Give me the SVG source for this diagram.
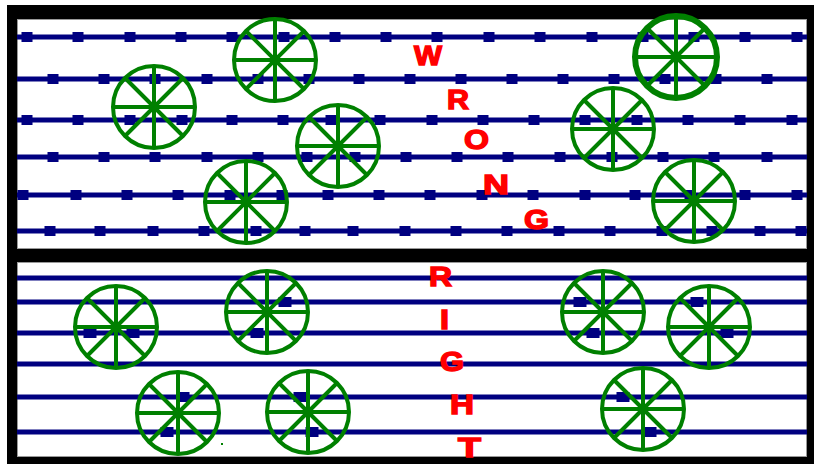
<svg xmlns="http://www.w3.org/2000/svg" xmlns:xlink="http://www.w3.org/1999/xlink" width="814" height="464" viewBox="0 0 814 464">
<style>
.ln{stroke:#000080;stroke-width:5;fill:none}
.sq{fill:#000080}
.tr{stroke:#008000;stroke-width:4;fill:none}
.lt{font-family:"Liberation Sans",Arial,sans-serif;font-weight:bold;font-size:27px;fill:#ff0000;stroke:#ff0000;stroke-width:1.4}
</style>
<defs>
<rect id="sq" x="-5.5" y="-5" width="11" height="10"/>
<rect id="sq2" x="-6.5" y="-5" width="13" height="10"/>
<path id="sp" d="M-41 0H41M0-41V41M-29-29L29 29M-29 29L29-29"/>
<circle id="rim" r="41"/>
</defs>
<rect x="0" y="0" width="814" height="464" fill="#ffffff"/>
<rect x="7" y="5" width="807" height="459" fill="#000000"/>
<rect x="17.5" y="19.5" width="789" height="229" fill="#ffffff" stroke="#999999" stroke-width="1"/>
<rect x="17.5" y="262.5" width="789" height="194" fill="#ffffff" stroke="#999999" stroke-width="1"/>
<g id="connectors">
<g class="ln">
<path d="M17 37H807M17 79H807M17 120H807M17 157H807M17 195H807M17 231H807"/>
<path d="M17 278H807M17 302H807M17 333H807M17 364H807M17 397H807M17 432H807"/>
</g>
<g class="sq">
<use href="#sq" x="27" y="37"/><use href="#sq" x="78" y="37"/><use href="#sq" x="130" y="37"/><use href="#sq" x="181" y="37"/><use href="#sq" x="232" y="37"/><use href="#sq" x="284" y="37"/><use href="#sq" x="335" y="37"/><use href="#sq" x="386" y="37"/><use href="#sq" x="437" y="37"/><use href="#sq" x="489" y="37"/><use href="#sq" x="540" y="37"/><use href="#sq" x="592" y="37"/><use href="#sq" x="643" y="37"/><use href="#sq" x="694" y="37"/><use href="#sq" x="745" y="37"/><use href="#sq" x="797" y="37"/>
<use href="#sq" x="53" y="79"/><use href="#sq" x="104" y="79"/><use href="#sq" x="155" y="79"/><use href="#sq" x="207" y="79"/><use href="#sq" x="258" y="79"/><use href="#sq" x="309" y="79"/><use href="#sq" x="359" y="79"/><use href="#sq" x="410" y="79"/><use href="#sq" x="461" y="79"/><use href="#sq" x="512" y="79"/><use href="#sq" x="563" y="79"/><use href="#sq" x="614" y="79"/><use href="#sq" x="665" y="79"/><use href="#sq" x="716" y="79"/><use href="#sq" x="767" y="79"/>
<use href="#sq" x="27" y="120"/><use href="#sq" x="78" y="120"/><use href="#sq" x="130" y="120"/><use href="#sq" x="182" y="120"/><use href="#sq" x="232" y="120"/><use href="#sq" x="283" y="120"/><use href="#sq" x="331" y="120"/><use href="#sq" x="380" y="120"/><use href="#sq" x="432" y="120"/><use href="#sq" x="483" y="120"/><use href="#sq" x="534" y="120"/><use href="#sq" x="585" y="120"/><use href="#sq" x="637" y="120"/><use href="#sq" x="688" y="120"/><use href="#sq" x="740" y="120"/><use href="#sq" x="792" y="120"/>
<use href="#sq" x="53" y="157"/><use href="#sq" x="104" y="157"/><use href="#sq" x="155" y="157"/><use href="#sq" x="207" y="157"/><use href="#sq" x="258" y="157"/><use href="#sq" x="307" y="157"/><use href="#sq" x="355" y="157"/><use href="#sq" x="406" y="157"/><use href="#sq" x="457" y="157"/><use href="#sq" x="508" y="157"/><use href="#sq" x="560" y="157"/><use href="#sq" x="612" y="157"/><use href="#sq" x="663" y="157"/><use href="#sq" x="714" y="157"/><use href="#sq" x="767" y="157"/>
<use href="#sq" x="23" y="195"/><use href="#sq" x="76" y="195"/><use href="#sq" x="127" y="195"/><use href="#sq" x="178" y="195"/><use href="#sq" x="230" y="195"/><use href="#sq" x="282" y="195"/><use href="#sq" x="328" y="195"/><use href="#sq" x="379" y="195"/><use href="#sq" x="430" y="195"/><use href="#sq" x="482" y="195"/><use href="#sq" x="533" y="195"/><use href="#sq" x="585" y="195"/><use href="#sq" x="635" y="195"/><use href="#sq" x="690" y="195"/><use href="#sq" x="745" y="195"/><use href="#sq" x="797" y="195"/>
<use href="#sq" x="50" y="231"/><use href="#sq" x="100" y="231"/><use href="#sq" x="153" y="231"/><use href="#sq" x="204" y="231"/><use href="#sq" x="256" y="231"/><use href="#sq" x="305" y="231"/><use href="#sq" x="353" y="231"/><use href="#sq" x="405" y="231"/><use href="#sq" x="456" y="231"/><use href="#sq" x="507" y="231"/><use href="#sq" x="559" y="231"/><use href="#sq" x="610" y="231"/><use href="#sq" x="662" y="231"/><use href="#sq" x="712" y="231"/><use href="#sq" x="760" y="231"/><use href="#sq" x="801" y="231"/>
<use href="#sq2" x="90" y="333"/><use href="#sq2" x="133" y="333"/>
<use href="#sq2" x="285" y="302"/><use href="#sq2" x="257" y="333"/>
<use href="#sq2" x="183" y="397"/><use href="#sq2" x="167" y="432"/>
<use href="#sq2" x="300" y="397"/><use href="#sq2" x="312" y="432"/>
<use href="#sq2" x="580" y="302"/><use href="#sq2" x="593" y="333"/>
<use href="#sq2" x="697" y="302"/><use href="#sq2" x="727" y="333"/>
<use href="#sq2" x="623" y="397"/><use href="#sq2" x="650" y="432"/>
</g>
</g>
<g id="tree-w1" class="tr" transform="translate(154,107)"><use href="#rim"/><use href="#sp"/></g>
<g id="tree-w2" class="tr" transform="translate(275,60)"><use href="#rim"/><use href="#sp"/></g>
<g id="tree-w3" class="tr" transform="translate(246,202)"><use href="#rim"/><use href="#sp"/></g>
<g id="tree-w4" class="tr" transform="translate(338,146)"><use href="#rim"/><use href="#sp"/></g>
<g id="tree-w5" class="tr" transform="translate(676,57)"><use href="#rim" stroke-width="6"/><use href="#sp"/></g>
<g id="tree-w6" class="tr" transform="translate(613,129)"><use href="#rim"/><use href="#sp"/></g>
<g id="tree-w7" class="tr" transform="translate(694,201)"><use href="#rim"/><use href="#sp"/></g>
<g id="tree-r1" class="tr" transform="translate(116,327)"><use href="#rim"/><use href="#sp"/></g>
<g id="tree-r2" class="tr" transform="translate(267,312)"><use href="#rim"/><use href="#sp"/></g>
<g id="tree-r3" class="tr" transform="translate(178,413)"><use href="#rim"/><use href="#sp"/></g>
<g id="tree-r4" class="tr" transform="translate(308,412)"><use href="#rim"/><use href="#sp"/></g>
<g id="tree-r5" class="tr" transform="translate(603,312)"><use href="#rim"/><use href="#sp"/></g>
<g id="tree-r6" class="tr" transform="translate(709,327)"><use href="#rim"/><use href="#sp"/></g>
<g id="tree-r7" class="tr" transform="translate(643,409)"><use href="#rim"/><use href="#sp"/></g>
<rect x="221" y="443" width="2" height="2" fill="#008000"/>
<g id="label-wrong" class="lt">
<text x="414" y="65" textLength="28" lengthAdjust="spacingAndGlyphs">W</text>
<text x="447" y="109" textLength="22" lengthAdjust="spacingAndGlyphs">R</text>
<text x="464" y="149" textLength="25" lengthAdjust="spacingAndGlyphs">O</text>
<text x="483" y="194" textLength="26" lengthAdjust="spacingAndGlyphs">N</text>
<text x="524" y="229" textLength="25" lengthAdjust="spacingAndGlyphs">G</text>
</g>
<g id="label-right" class="lt">
<text x="429" y="286" textLength="23" lengthAdjust="spacingAndGlyphs">R</text>
<text x="440" y="329" textLength="9" lengthAdjust="spacingAndGlyphs">I</text>
<text x="440" y="371" textLength="24" lengthAdjust="spacingAndGlyphs">G</text>
<text x="450" y="414" textLength="24" lengthAdjust="spacingAndGlyphs">H</text>
<text x="458" y="457" textLength="23" lengthAdjust="spacingAndGlyphs">T</text>
</g>
</svg>
